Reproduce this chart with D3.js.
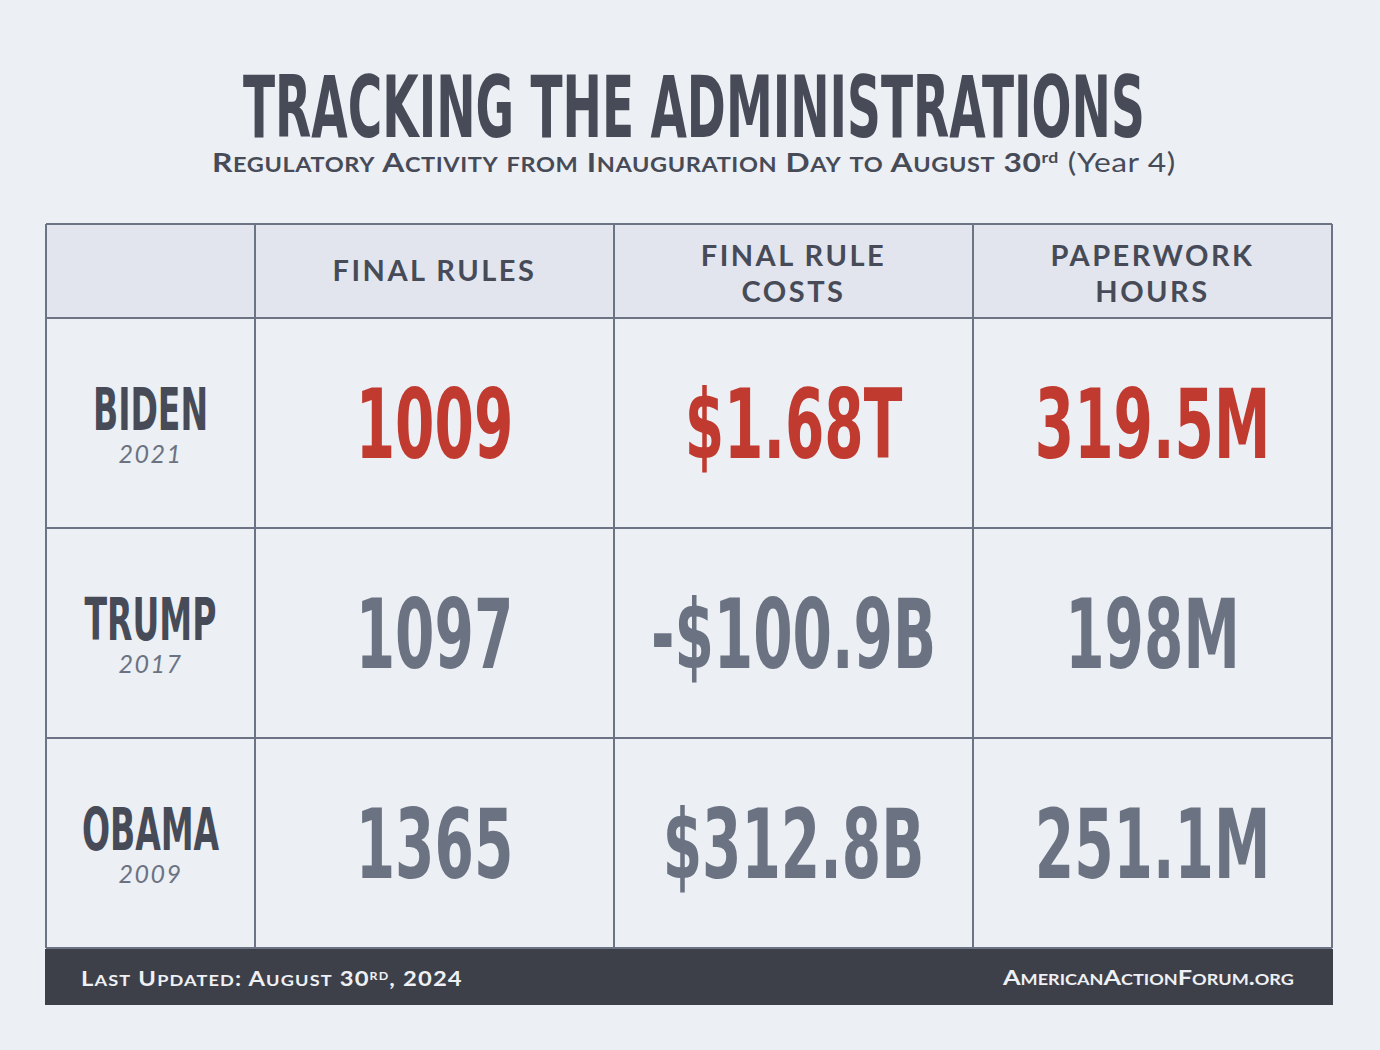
<!DOCTYPE html>
<html>
<head>
<meta charset="utf-8">
<script src="https://cdn.jsdelivr.net/npm/d3@7"></script>
<style>
  html, body { margin: 0; padding: 0; background: #eceff3; }
  svg { display: block; }
</style>
</head>
<body>
<svg id="chart" width="1380" height="1050"></svg>
<script>
// table data
var admins = ['BIDEN', 'TRUMP', 'OBAMA'];
var years = ['2021', '2017', '2009'];
var columns = [['FINAL RULES'], ['FINAL RULE', 'COSTS'], ['PAPERWORK', 'HOURS']];
var finalRules = ['1009', '1097', '1365'];
var ruleCosts = ['$1.68T', '-$100.9B', '$312.8B'];
var paperworkHours = ['319.5M', '198M', '251.1M'];
var highlightRow = 'BIDEN';

var values = [finalRules, ruleCosts, paperworkHours];

var colors = {
  bg: '#eceff3',
  header: '#e2e5ed',
  line: '#6c7384',
  dark: '#474b58',
  gray: '#6b7383',
  red: '#c13a30',
  footer: '#3d4049',
  footerText: '#eef0f4'
};

var condensedFont = "'DejaVu Sans', sans-serif";
var sansFont = "Lato, 'Open Sans', sans-serif";
var squeeze = 0.59; // horizontal squeeze to fake a condensed face

var svg = d3.select('#chart');
svg.append('rect').attr('width', 1380).attr('height', 1050).attr('fill', colors.bg);

// layout
var table = { left: 46, right: 1332, top: 224, headerBottom: 318, bottom: 948 };
var labelRight = 255;

var x = d3.scaleBand()
  .domain(d3.range(columns.length))
  .range([labelRight, table.right]);

var y = d3.scaleBand()
  .domain(admins)
  .range([table.headerBottom, table.bottom]);

// squeezed text, anchored at its centre
function condensedText(g, str, cx, baseline, size, fill, sx) {
  return g.append('text')
    .attr('transform', 'translate(' + cx + ',' + baseline + ') scale(' + (sx || squeeze) + ',1)')
    .attr('text-anchor', 'middle')
    .style('font-family', condensedFont)
    .style('font-weight', 'bold')
    .style('font-size', size + 'px')
    .attr('fill', fill)
    .text(str);
}

// squeeze a left-anchored text so it spans the given width
function fitWidth(textSel, left, baseline, width) {
  var len = textSel.node().getComputedTextLength();
  textSel.attr('transform', 'translate(' + left + ',' + baseline + ') scale(' + (width / len) + ',1)');
}

// small caps: capitals and digits big, lower case letters become small capitals
function smallCaps(textSel, str, big, small) {
  var runs = [];
  str.split('').forEach(function(ch) {
    var isSmall = ch !== ch.toUpperCase();
    var last = runs[runs.length - 1];
    if (last && last.small === isSmall) last.text += ch;
    else runs.push({ text: ch, small: isSmall });
  });
  runs.forEach(function(r) {
    textSel.append('tspan')
      .style('font-size', (r.small ? small : big) + 'px')
      .text(r.small ? r.text.toUpperCase() : r.text);
  });
}

// ---- title ----
var title = svg.append('text')
  .style('font-family', condensedFont)
  .style('font-weight', 'bold')
  .style('font-size', '86px')
  .attr('fill', colors.dark)
  .text('TRACKING THE ADMINISTRATIONS');
fitWidth(title, 243, 137, 902);

var sub = svg.append('text')
  .style('font-family', sansFont)
  .style('font-weight', 'bold')
  .style('letter-spacing', '0.5px')
  .attr('fill', colors.dark);
smallCaps(sub, 'Regulatory Activity from Inauguration Day to August 30', 27, 20);
sub.append('tspan').attr('dy', -9).style('font-size', '15px').text('rd');
sub.append('tspan').attr('dy', 9).style('font-size', '27px').style('font-weight', 'normal')
  .text(' (Year 4)');
fitWidth(sub, 212, 172, 964);

// ---- table ----
var grid = svg.append('g');

grid.append('rect')
  .attr('x', table.left).attr('y', table.top)
  .attr('width', table.right - table.left)
  .attr('height', table.headerBottom - table.top)
  .attr('fill', colors.header);

// header labels
columns.forEach(function(lines, i) {
  var cx = x(i) + x.bandwidth() / 2;
  var mid = (table.top + table.headerBottom) / 2;
  var lineGap = 36;
  var first = mid + 10 - (lines.length - 1) * lineGap / 2 + (lines.length > 1 ? 3 : 0);
  var t = grid.append('text')
    .attr('text-anchor', 'middle')
    .style('font-family', sansFont)
    .style('font-weight', 'bold')
    .style('font-size', '29px')
    .style('letter-spacing', '2.5px')
    .attr('fill', colors.dark);
  lines.forEach(function(l, j) {
    t.append('tspan').attr('x', cx).attr('y', first + j * lineGap).text(l);
  });
});

// row labels and values
admins.forEach(function(name, r) {
  var cy = y(name) + y.bandwidth() / 2;
  var lx = (table.left + labelRight) / 2;
  condensedText(grid, name, lx, cy + 7, 59, colors.dark, 0.56);
  grid.append('text')
    .attr('x', lx).attr('y', cy + 40)
    .attr('text-anchor', 'middle')
    .style('font-family', sansFont)
    .style('font-style', 'italic')
    .style('font-size', '25px')
    .style('letter-spacing', '1.5px')
    .attr('fill', colors.gray)
    .text(years[r]);

  values.forEach(function(col, c) {
    var fill = name === highlightRow ? colors.red : colors.gray;
    condensedText(grid, col[r], x(c) + x.bandwidth() / 2, cy + 35, 96, fill);
  });
});

// grid lines
var hLines = [table.top, table.headerBottom].concat(admins.map(function(a) { return y(a) + y.bandwidth(); }));
var vLines = [table.left, labelRight].concat(d3.range(columns.length).map(function(i) { return x(i) + x.bandwidth(); }));

grid.selectAll('line.h')
  .data(hLines)
  .enter()
  .append('line')
  .attr('x1', table.left).attr('x2', table.right)
  .attr('y1', function(d) { return d; }).attr('y2', function(d) { return d; })
  .attr('stroke', colors.line)
  .attr('stroke-width', 2);

grid.selectAll('line.v')
  .data(vLines)
  .enter()
  .append('line')
  .attr('y1', table.top).attr('y2', table.bottom)
  .attr('x1', function(d) { return d; }).attr('x2', function(d) { return d; })
  .attr('stroke', colors.line)
  .attr('stroke-width', 2);

// ---- footer ----
svg.append('rect')
  .attr('x', table.left - 1).attr('y', 949)
  .attr('width', table.right - table.left + 2).attr('height', 56)
  .attr('fill', colors.footer);

var left = svg.append('text')
  .style('font-family', sansFont)
  .style('font-weight', 'bold')
  .style('letter-spacing', '1px')
  .attr('fill', colors.footerText);
smallCaps(left, 'Last Updated: August 30', 21, 16);
left.append('tspan').attr('dy', -6).style('font-size', '11px').text('RD');
left.append('tspan').attr('dy', 6).style('font-size', '21px').text(', 2024');
fitWidth(left, 81, 986, 382);

var right = svg.append('text')
  .style('font-family', sansFont)
  .style('font-weight', 'bold')
  .attr('fill', colors.footerText);
smallCaps(right, 'AmericanActionForum.org', 21, 15);
fitWidth(right, 1003, 985, 291);
</script>
</body>
</html>
